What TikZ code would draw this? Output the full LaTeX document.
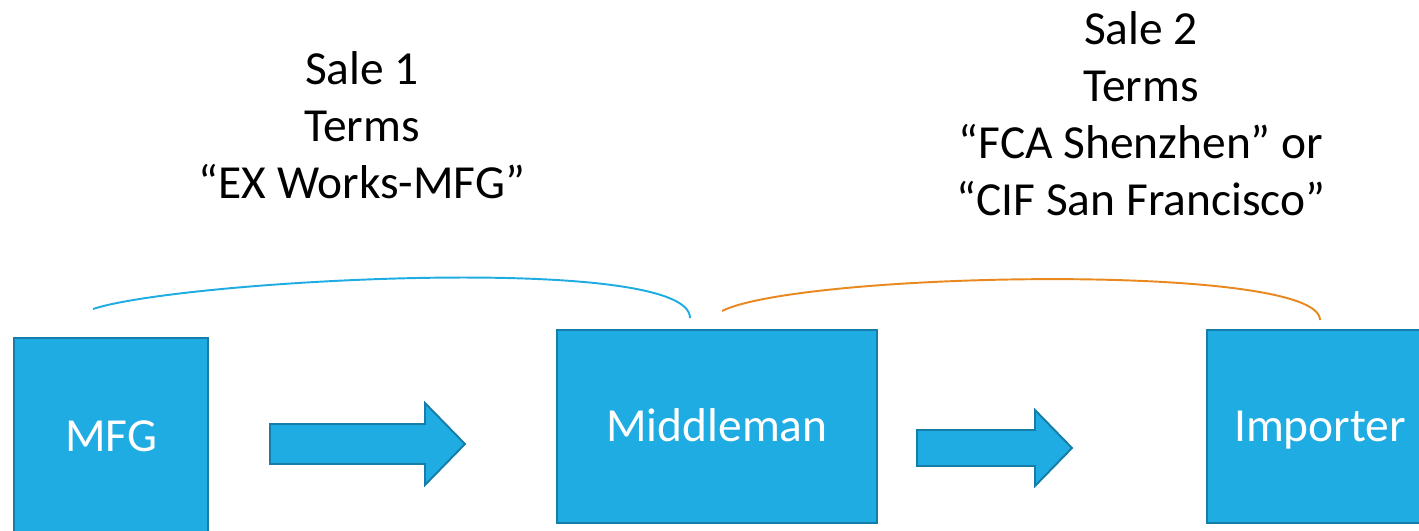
\documentclass[tikz,border=0pt]{standalone}
\usepackage{fontspec}
\setmainfont{Carlito}
\usepackage{tikz}
\usetikzlibrary{positioning}
\definecolor{boxfill}{RGB}{31,172,226}
\definecolor{boxline}{RGB}{22,125,168}
\definecolor{saleone}{RGB}{31,172,226}
\definecolor{saletwo}{RGB}{232,136,30}
\tikzset{
  party/.style={draw=boxline, fill=boxfill, line width=1.1pt, text=white,
                font=\fontsize{27}{32.4}\selectfont, inner sep=0pt,
                text height=17.3pt, text depth=0pt},
  flowarrow/.style={draw=boxline, fill=boxfill, line width=1.1pt, line join=miter},
  saleterms/.style={align=center, font=\fontsize{27}{32.4}\selectfont},
  bracket/.style={line width=1.1pt},
}
\begin{document}
\begin{tikzpicture}[x=0.2cm,y=0.2cm]
  \clip (0,0) rectangle (141.9,53);
  % the three parties
  \node[party, minimum width=3.88cm, minimum height=3.92cm] (mfg) at (11.1,9.4) {MFG};
  \node[party, minimum width=6.4cm, minimum height=3.86cm] (middle) at (71.7,10.35) {Middleman};
  \node[party, minimum width=4.52cm, minimum height=3.86cm] (importer) at (132.0,10.35) {Importer};
  % block arrows: tail / head base / tip / mid line / shaft and head half widths
  \foreach \xa/\xb/\xc/\ym/\sh/\hh in {27.0/42.5/46.5/8.6/2.0/4.1, 91.7/103.5/107.2/8.2/1.8/3.8}{
    \draw[flowarrow] (\xa,\ym-\sh) -- (\xb,\ym-\sh) -- (\xb,\ym-\hh) -- (\xc,\ym)
      -- (\xb,\ym+\hh) -- (\xb,\ym+\sh) -- (\xa,\ym+\sh) -- cycle;
  }
  % brackets over each sale
  \coordinate (s1a) at (9.3,22.1);
  \coordinate (s1b) at (69.0,21.2);
  \coordinate (s2a) at (72.2,21.9);
  \coordinate (s2b) at (132.0,21.0);
  \draw[bracket, saleone] (s1a) .. controls (18.0,25.0) and (69.0,27.8) .. (s1b);
  \draw[bracket, saletwo] (s2a) .. controls (80.0,25.8) and (132.0,26.8) .. (s2b);
  % sale terms
  \node[saleterms] (sale1) at (36.2,40.5) {Sale 1\\Terms\\“EX Works-MFG”};
  \node[saleterms] (sale2) at (114.1,41.6) {Sale 2\\Terms\\“FCA Shenzhen” or\\“CIF San Francisco”};
\end{tikzpicture}
\end{document}
